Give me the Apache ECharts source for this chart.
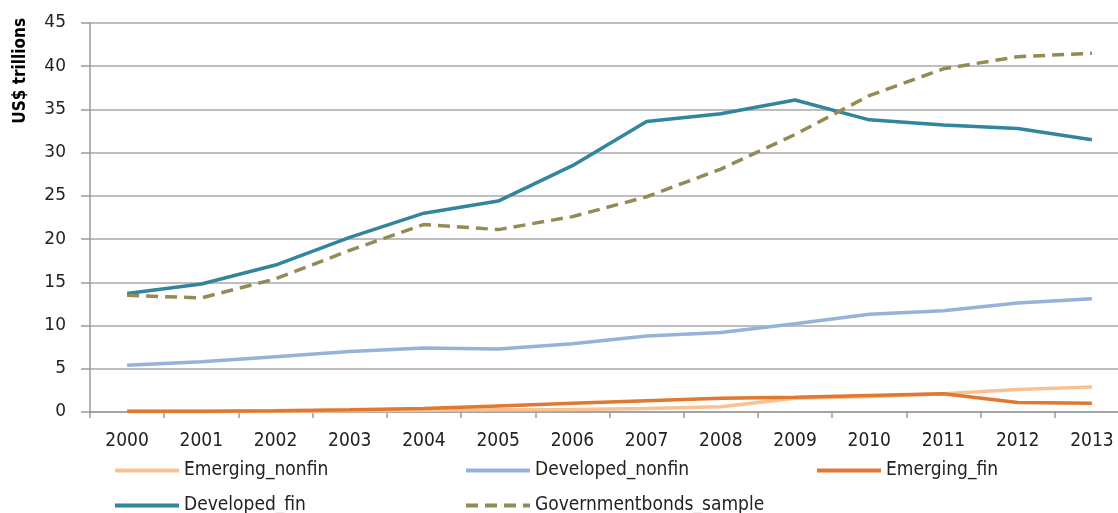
<!DOCTYPE html>
<html><head><meta charset="utf-8">
<script src="https://cdn.jsdelivr.net/npm/echarts@6/dist/echarts.min.js"></script>
<style>html,body{margin:0;padding:0;background:#fff}#c{width:1118px;height:513px}</style>
</head><body><div id="c"></div>
<script>
var years = ['2000','2001','2002','2003','2004','2005','2006','2007','2008','2009','2010','2011','2012','2013'];
var emergingNonfin = [0.05,0.05,0.1,0.15,0.2,0.25,0.3,0.4,0.6,1.6,1.8,2.1,2.6,2.9];
var developedNonfin = [5.4,5.8,6.4,7.0,7.4,7.3,7.9,8.8,9.2,10.2,11.3,11.7,12.6,13.1];
var emergingFin = [0.1,0.1,0.15,0.25,0.4,0.7,1.0,1.3,1.6,1.7,1.9,2.1,1.1,1.0];
var developedFin = [13.7,14.8,17.0,20.2,23.0,24.4,28.5,33.6,34.5,36.1,33.8,33.2,32.8,31.5];
var govBonds = [13.5,13.2,15.4,18.7,21.7,21.1,22.6,24.9,28.1,32.1,36.6,39.7,41.1,41.5];
var yTicks = [0,5,10,15,20,25,30,35,40,45];

var narrow = "'Liberation Sans Narrow','DejaVu Sans Condensed',sans-serif";
function mk(name, data, color, dashed){
  return {name:name,type:'line',data:data,symbol:'none',showSymbol:false,
    lineStyle:{color:color,width:3.5,type:dashed?[12,7]:'solid'},itemStyle:{color:color},
    emphasis:{disabled:true},animation:false};
}
function lg(name,left,top){
  return {data:[name],left:left,top:top,itemWidth:64,itemHeight:8,itemGap:4,padding:0,
    itemStyle:{opacity:0},lineStyle:{width:4},
    textStyle:{fontFamily:narrow,fontSize:19,color:'#222'}};
}
var chart = echarts.init(document.getElementById('c'));
chart.setOption({
  animation:false,
  grid:{left:90,width:1039,top:23,bottom:101,containLabel:false,outerBoundsMode:'none'},
  graphic:[{type:'text',left:12,top:18,rotation:Math.PI/2,
    style:{text:'US$ trillions',font:"bold 17px "+narrow,fill:'#000'}}],
  legend:[lg('Emerging_nonfin',113,461),lg('Developed_nonfin',464,461),lg('Emerging_fin',815,461),
          lg('Developed_fin',113,496),lg('Governmentbonds_sample',464,496)],
  xAxis:{type:'category',data:years,boundaryGap:true,
    axisLine:{lineStyle:{color:'#9a9a9a',width:1.5}},
    axisTick:{show:true,length:6,lineStyle:{color:'#9a9a9a',width:1.5}},
    axisLabel:{fontFamily:narrow,fontSize:19,color:'#222',margin:20}},
  yAxis:{type:'value',min:0,max:45,interval:5,
    axisLine:{show:true,lineStyle:{color:'#9a9a9a',width:1.5}},
    axisTick:{show:true,length:9,lineStyle:{color:'#9a9a9a',width:1.5}},
    splitLine:{lineStyle:{color:'#a8a8a8',width:1.5}},
    axisLabel:{fontFamily:"'DejaVu Sans',sans-serif",fontSize:17,color:'#222',margin:24,
      formatter:function(v){return yTicks.indexOf(v)>=0?String(v):'';}}},
  series:[
    mk('Emerging_nonfin',emergingNonfin,'#FAC090'),
    mk('Developed_nonfin',developedNonfin,'#95B3D7'),
    mk('Emerging_fin',emergingFin,'#E0782F'),
    mk('Developed_fin',developedFin,'#31859C'),
    mk('Governmentbonds_sample',govBonds,'#948A54',true)
  ]
});
</script></body></html>
